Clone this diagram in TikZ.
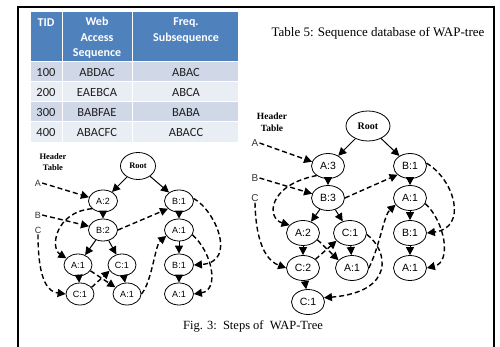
\documentclass[tikz,border=0pt]{standalone}
\usepackage{fontspec}
\setmainfont{Liberation Serif}
\newfontfamily\tabfont{Carlito}
\newfontfamily\nfont{Liberation Sans}
\usetikzlibrary{shapes.geometric,arrows.meta}
\definecolor{hdrcol}{HTML}{4F81BD}
\definecolor{rowa}{HTML}{D0D8E8}
\definecolor{rowb}{HTML}{E9EDF4}
\definecolor{txt}{HTML}{1F1F1F}
\begin{document}
\begin{tikzpicture}[x=1pt,y=-1pt,
 nd/.style={ellipse,draw,line width=0.8pt,inner sep=0pt,minimum width=29pt,minimum height=22pt,font=\nfont\fontsize{9}{9}\selectfont},
 ndr/.style={nd,minimum width=33pt,minimum height=25pt,font=\nfont\fontsize{10.5}{10.5}\selectfont},
 rootl/.style={ellipse,draw,line width=0.8pt,inner sep=0pt,minimum width=35pt,minimum height=27pt,font=\bfseries\fontsize{8.5}{8.5}\selectfont},
 rootr/.style={rootl,minimum width=44pt,minimum height=30pt,font=\bfseries\fontsize{10}{10}\selectfont},
 hdl/.style={align=center,inner sep=0pt,font=\bfseries\fontsize{8.5}{11}\selectfont},
 hdrr/.style={align=center,inner sep=0pt,font=\bfseries\fontsize{9.5}{11.5}\selectfont},
 lbl/.style={inner sep=1pt,text=black!80,font=\nfont\fontsize{9}{9}\selectfont},
 lblr/.style={lbl,font=\nfont\fontsize{10}{10}\selectfont},
 sol/.style={-{Triangle[length=8pt,width=8pt]},line width=1pt},
 dsh/.style={sol,dash pattern=on 5pt off 3pt,line width=1.4pt},
 th/.style={text=white,align=center,inner sep=0pt,font=\tabfont\bfseries\fontsize{12}{15.5}\selectfont},
 td/.style={text=txt,inner sep=0pt,font=\tabfont\fontsize{12.5}{12.5}\selectfont},
 capt/.style={inner sep=0pt,font=\fontsize{13}{13}\selectfont}
]
\useasboundingbox (0,0) rectangle (500,347);
\fill[white] (0,0) rectangle (500,347);
% frame
\draw[line width=1.4pt] (18,347) -- (18,7) -- (494,7) -- (494,347);
% table
\fill[hdrcol] (31,12) rectangle (238,61);
\fill[rowa] (31,62) rectangle (238,82);
\fill[rowb] (31,82) rectangle (238,102);
\fill[rowa] (31,102) rectangle (238,122);
\fill[rowb] (31,122) rectangle (238,142);
\draw[white,line width=1.2pt] (31,61.5) -- (238,61.5);
\foreach \yy in {82,102,122} \draw[white,line width=1pt] (31,\yy) -- (238,\yy);
\foreach \xx in {62,132} \draw[white,line width=1pt] (\xx,12) -- (\xx,142);
\node[th] (h1) at (46,23) {TID};
\node[th] (h2) at (97,38) {Web\\Access\\Sequence};
\node[th] (h3) at (186,30.5) {Freq.\\Subsequence};
\node[td] (r1a) at (46,72) {100};
\node[td] (r1b) at (97,72) {ABDAC};
\node[td] (r1c) at (186,72) {ABAC};
\node[td] (r2a) at (46,92.5) {200};
\node[td] (r2b) at (97,92.5) {EAEBCA};
\node[td] (r2c) at (186,92.5) {ABCA};
\node[td] (r3a) at (46,112.5) {300};
\node[td] (r3b) at (97,112.5) {BABFAE};
\node[td] (r3c) at (186,112.5) {BABA};
\node[td] (r4a) at (46,132.5) {400};
\node[td] (r4b) at (97,132.5) {ABACFC};
\node[td] (r4c) at (186,132.5) {ABACC};
% captions
\node[capt] (tcap) at (378,33) {Table 5: Sequence database of WAP-tree};
\node[capt,font=\fontsize{12.5}{12.5}\selectfont] (fcap) at (253,326) {Fig. 3:\ \ Steps of\ \ WAP-Tree};

% ---------- left tree ----------
\node[hdl] (lhdr) at (53,162.5) {Header\\Table};
\node[lbl] (lA) at (38,183) {A};
\node[lbl] (lB) at (38,215) {B};
\node[lbl] (lC) at (38,230) {C};
\node[rootl] (lroot) at (138,166) {Root};
\node[nd] (la2) at (103,201) {A:2};
\node[nd] (lb2) at (103,230) {B:2};
\node[nd,minimum width=28pt] (la1) at (78,265) {A:1};
\node[nd,minimum width=28pt] (lc1) at (122,265) {C:1};
\node[nd,minimum width=28pt] (lc1b) at (80,294) {C:1};
\node[nd,minimum width=28pt] (la1b) at (127,294) {A:1};
\node[nd] (lb1) at (179,201) {B:1};
\node[nd] (lra1) at (179,230) {A:1};
\node[nd] (lrb1) at (179,265) {B:1};
\node[nd] (lra1b) at (179,294) {A:1};
\draw[sol] (lroot) -- (la2);
\draw[sol] (lroot) -- (lb1);
\draw[sol] (la2) -- (lb2);
\draw[sol] (lb2) -- (la1);
\draw[sol] (lb2) -- (lc1);
\draw[sol] (la1) -- (lc1b);
\draw[sol] (lc1) -- (la1b);
\draw[sol] (lb1) -- (lra1);
\draw[sol] (lra1) -- (lrb1);
\draw[sol] (lrb1) -- (lra1b);
\draw[dsh] (lA.east) -- (la2.165);
\draw[dsh] (lB.east) -- (lb2.165);
\draw[dsh] (lC.south) .. controls (38,285) and (50,292) .. (lc1b.west);
\draw[dsh] (la2.215) .. controls (55,212) and (50,248) .. (la1.150);
\draw[dsh] (lb2.east) -- (lb1.215);
\draw[dsh] (lb1.10) .. controls (215,210) and (238,262) .. (lrb1.east);
\draw[dsh] (lra1.-20) .. controls (212,252) and (220,290) .. (lra1b.east);
\draw[dsh] (la1.-25) -- (la1b.150);
\draw[dsh] (lc1b.30) -- (lc1.205);
\draw[dsh] (la1b.east) .. controls (152,282) and (155,245) .. (lra1.205);

% ---------- right tree ----------
\node[hdrr] (rhdr) at (272,122.5) {Header\\Table};
\node[lblr] (rA) at (255,143) {A};
\node[lblr] (rB) at (255,178) {B};
\node[lblr] (rC) at (255,198) {C};
\node[rootr] (rroot) at (368,126) {Root};
\node[ndr] (ra3) at (328,166) {A:3};
\node[ndr] (rb3) at (328,198) {B:3};
\node[ndr] (ra2) at (303,233) {A:2};
\node[ndr] (rc1) at (350,233) {C:1};
\node[ndr] (rc2) at (303,268) {C:2};
\node[ndr] (ra1m) at (352,268) {A:1};
\node[ndr] (rc1b) at (308,302) {C:1};
\node[ndr] (rb1) at (410,166) {B:1};
\node[ndr] (rra1) at (410,198) {A:1};
\node[ndr] (rrb1) at (410,233) {B:1};
\node[ndr] (rra1b) at (410,268) {A:1};
\draw[sol] (rroot) -- (ra3);
\draw[sol] (rroot) -- (rb1);
\draw[sol] (ra3) -- (rb3);
\draw[sol] (rb3) -- (ra2);
\draw[sol] (rb3) -- (rc1);
\draw[sol] (ra2) -- (rc2);
\draw[sol] (rc2) -- (rc1b);
\draw[sol] (rc1) -- (ra1m);
\draw[sol] (rb1) -- (rra1);
\draw[sol] (rra1) -- (rrb1);
\draw[sol] (rrb1) -- (rra1b);
\draw[dsh] (rA.east) -- (ra3.165);
\draw[dsh] (rB.east) -- (rb3.165);
\draw[dsh] (rC.south) .. controls (256,250) and (270,262) .. (rc2.west);
\draw[dsh] (ra3.220) .. controls (268,185) and (266,218) .. (ra2.150);
\draw[dsh] (rb3.east) -- (rb1.215);
\draw[dsh] (rb1.10) .. controls (455,180) and (468,228) .. (rrb1.east);
\draw[dsh] (rra1.-20) .. controls (445,222) and (452,262) .. (rra1b.east);
\draw[dsh] (ra2.-25) -- (ra1m.150);
\draw[dsh] (rc2.35) -- (rc1.210);
\draw[dsh] (ra1m.east) .. controls (380,245) and (384,215) .. (rra1.205);
\draw[dsh] (rc1.-5) .. controls (388,250) and (396,292) .. (rc1b.15);
\end{tikzpicture}
\end{document}
